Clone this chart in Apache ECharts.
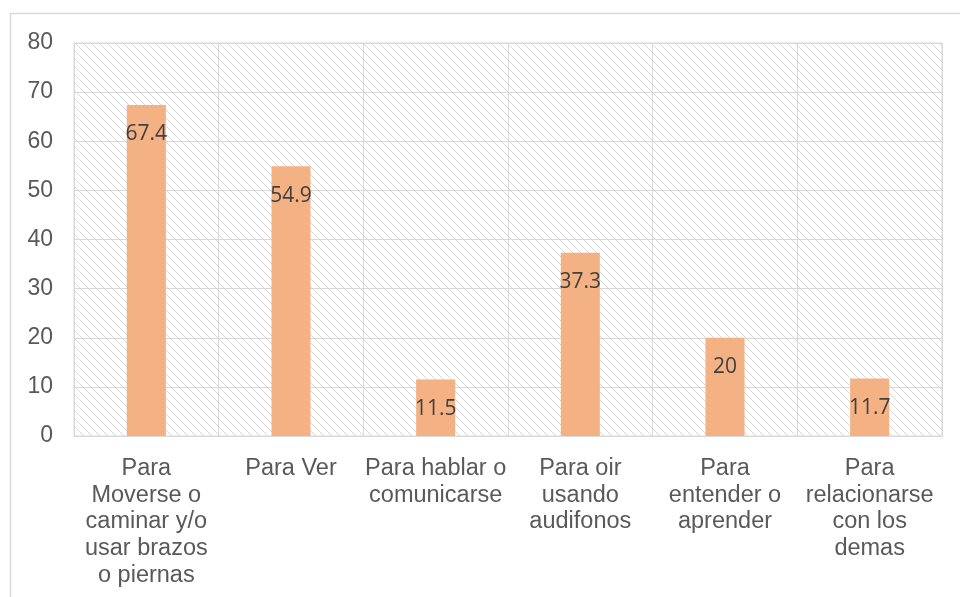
<!DOCTYPE html>
<html><head><meta charset="utf-8">
<script src="https://cdn.jsdelivr.net/npm/echarts@6/dist/echarts.min.js"></script>
<style>html,body{margin:0;padding:0;background:#fff}#c{width:960px;height:597px}</style>
</head><body><div id="c"></div>
<script>
const categories = ["Para\nMoverse o\ncaminar y/o\nusar brazos\no piernas", "Para Ver", "Para hablar o\ncomunicarse", "Para oir\nusando\naudifonos", "Para\nentender o\naprender", "Para\nrelacionarse\ncon los\ndemas"];
const values = [67.4, 54.9, 11.5, 37.3, 20, 11.7];
const yTicks = [0, 10, 20, 30, 40, 50, 60, 70, 80];

const pc = document.createElement('canvas');
pc.width = 8; pc.height = 8;
const ctx = pc.getContext('2d');
ctx.fillStyle = '#ffffff'; ctx.fillRect(0,0,8,8);
ctx.strokeStyle = '#d9d9d9'; ctx.lineWidth = 1;
ctx.beginPath();
ctx.moveTo(-1,-1); ctx.lineTo(9,9);
ctx.moveTo(-1,7); ctx.lineTo(1,9);
ctx.moveTo(7,-1); ctx.lineTo(9,1);
ctx.stroke();

const chart = echarts.init(document.getElementById('c'));
chart.setOption({
  animation: false,
  graphic: [{type:'rect', shape:{x:10.5,y:13.5,width:960,height:600}, style:{fill:'none', stroke:'#d9d9d9', lineWidth:1.5}, z:-1}],
  grid: {left:74, right:18, top:43, bottom:161, show:true, backgroundColor:{image:pc, repeat:'repeat'}, borderColor:'#d9d9d9', borderWidth:1},
  xAxis: {type:'category', data:categories,
    axisLine:{show:true, lineStyle:{color:'#d9d9d9', width:1}}, axisTick:{show:false},
    splitLine:{show:true, lineStyle:{color:'#d9d9d9', width:1}},
    axisLabel:{interval:0, color:'#595959', fontSize:23.5, fontFamily:'Liberation Sans', lineHeight:26.75, margin:19}},
  yAxis: {type:'value', min:yTicks[0], max:yTicks[yTicks.length-1], interval:10,
    axisLine:{show:false}, axisTick:{show:false},
    splitLine:{lineStyle:{color:'#d9d9d9', width:1}},
    axisLabel:{color:'#595959', fontSize:23, fontFamily:'Liberation Sans', margin:21, padding:[4,0,0,0]}},
  series: [{type:'bar', data:values, barWidth:'27%', itemStyle:{color:'#F4B183'},
    label:{show:true, position:'insideTop', distance:19, color:'#404040', fontSize:21, fontFamily:'Open Sans'}}]
});
</script></body></html>
